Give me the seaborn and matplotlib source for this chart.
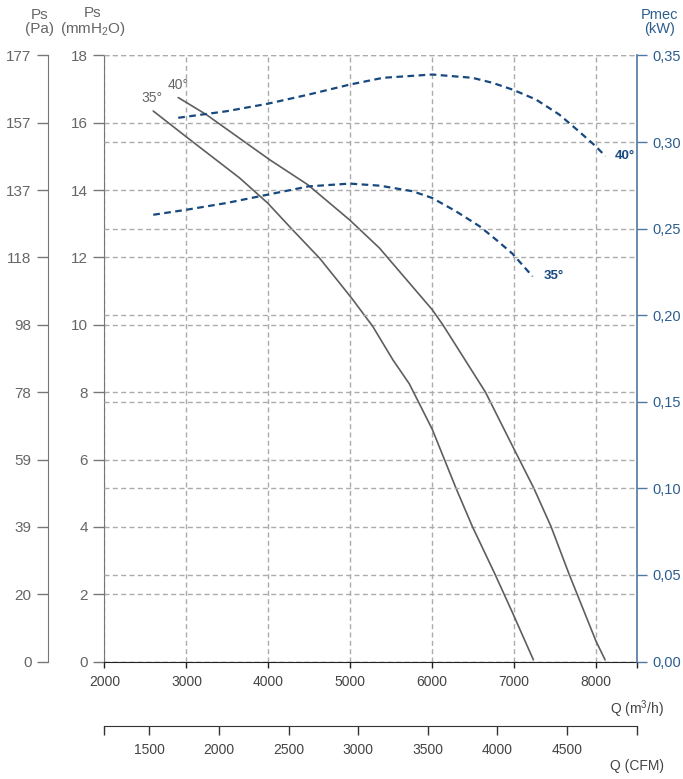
import matplotlib
matplotlib.use("Agg")
import matplotlib.pyplot as plt
from matplotlib import font_manager
import seaborn as sns
from matplotlib.ticker import FixedLocator

# pressure curves (Q in m3/h, Ps in mmH2O)
q35_ps = [2595, 3000, 3650, 3990, 4300, 4625, 4870, 5030, 5275, 5520, 5720, 6000, 6290, 6490, 6765, 6980, 7235]
ps35 = [16.35, 15.58, 14.36, 13.62, 12.81, 11.98, 11.24, 10.75, 9.95, 8.96, 8.25, 6.9, 5.15, 4.01, 2.6, 1.45, 0.05]
q40_ps = [2900, 3245, 4018, 4482, 4990, 5356, 6000, 6130, 6650, 6980, 7240, 7450, 7670, 8000, 8110]
ps40 = [16.75, 16.24, 14.9, 14.16, 13.12, 12.28, 10.45, 10.0, 8.0, 6.4, 5.15, 4.01, 2.6, 0.6, 0.05]

# power curves (Q in m3/h, Pmec in kW)
q35_pw = [2595, 3000, 3490, 3990, 4490, 4995, 5360, 5760, 6000, 6290, 6580, 6780, 6980, 7225]
pw35 = [0.258, 0.2609, 0.2648, 0.2696, 0.2744, 0.276, 0.2748, 0.2716, 0.2677, 0.26, 0.2513, 0.2436, 0.2355, 0.2224]
q40_pw = [2900, 3490, 3990, 4490, 4995, 5400, 6000, 6490, 6735, 6980, 7265, 7550, 7790, 7995, 8115]
pw40 = [0.314, 0.3178, 0.3221, 0.3274, 0.3332, 0.3371, 0.339, 0.3371, 0.3342, 0.3303, 0.3246, 0.3159, 0.3062, 0.2976, 0.2918]

mm_ticks = [0, 2, 4, 6, 8, 10, 12, 14, 16, 18]
pa_labels = ["0", "20", "39", "59", "78", "98", "118", "137", "157", "177"]
kw_ticks = [0.0, 0.05, 0.10, 0.15, 0.20, 0.25, 0.30, 0.35]
q_ticks = [2000, 3000, 4000, 5000, 6000, 7000, 8000]
cfm_ticks = [1500, 2000, 2500, 3000, 3500, 4000, 4500]
M3H_PER_CFM = 1.699

sns.set_style("white")

names = {f.name for f in font_manager.fontManager.ttflist}
base = "Liberation Sans" if "Liberation Sans" in names else "DejaVu Sans"
narrow = "Liberation Sans Narrow" if "Liberation Sans Narrow" in names else base
plt.rcParams["font.family"] = [base, "DejaVu Sans"]
plt.rcParams["mathtext.fontset"] = "custom"
plt.rcParams["mathtext.rm"] = base
plt.rcParams["mathtext.default"] = "regular"

GREY = "#666666"
DARK = "#444444"
BLUE = "#17497f"
AXBLUE = "#4f77a3"
LBLUE = "#2d5e8e"
GRID = "#ababab"
dash_grid = (0, (3.6, 2.4))
dash_pw = (0, (3.0, 2.0))

fig = plt.figure(figsize=(6.83, 7.79), dpi=100)
ax = fig.add_axes([0.153, 0.1508, 0.7797, 0.778])
ax.set_xlim(2000, 8500)
ax.set_ylim(0, 18)

sns.lineplot(x=q35_ps, y=ps35, ax=ax, color="#5e5e5e", lw=1.2, sort=False, estimator=None)
sns.lineplot(x=q40_ps, y=ps40, ax=ax, color="#5e5e5e", lw=1.2, sort=False, estimator=None)

ax.xaxis.set_major_locator(FixedLocator(q_ticks))
ax.xaxis.set_minor_locator(FixedLocator([8500]))
ax.yaxis.set_major_locator(FixedLocator(mm_ticks))
ax.grid(True, which="major", ls=dash_grid, color=GRID, lw=1)
ax.set_axisbelow(True)
for s in ["top", "right"]:
    ax.spines[s].set_visible(False)
ax.spines["left"].set_color("#777777")
ax.spines["bottom"].set_color("#222222")
ax.tick_params(axis="y", which="major", direction="out", length=8, width=1, color="#777777",
               labelcolor=GREY, labelsize=11, pad=4, left=True)
ax.tick_params(axis="x", which="both", direction="out", length=4.5, width=1, color="#222222",
               labelcolor=DARK, labelsize=10, pad=5, bottom=True)
ax.set_xlabel("")
ax.set_ylabel("")

# Pa axis (outer left)
axp = ax.twinx()
axp.set_ylim(0, 18)
axp.yaxis.set_major_locator(FixedLocator(mm_ticks))
axp.set_yticklabels(pa_labels)
axp.yaxis.tick_left()
axp.spines["left"].set_visible(True)
axp.spines["left"].set_position(("outward", 40.5))
axp.spines["left"].set_color("#777777")
for s in ["top", "right", "bottom"]:
    axp.spines[s].set_visible(False)
axp.tick_params(axis="y", direction="out", length=8, width=1, color="#777777",
                labelcolor=GREY, labelsize=11, pad=4)
axp.grid(False)

# Pmec axis (right)
axw = ax.twinx()
axw.set_ylim(0, 0.35)
sns.lineplot(x=q35_pw, y=pw35, ax=axw, color=BLUE, lw=1.6, sort=False, estimator=None,
             dashes=False, linestyle=dash_pw)
sns.lineplot(x=q40_pw, y=pw40, ax=axw, color=BLUE, lw=1.6, sort=False, estimator=None,
             dashes=False, linestyle=dash_pw)
axw.yaxis.set_major_locator(FixedLocator(kw_ticks))
axw.set_yticklabels([f"{v:.2f}".replace(".", ",") for v in kw_ticks])
axw.grid(True, axis="y", ls=dash_grid, color=GRID, lw=1)
axw.set_axisbelow(True)
for s in ["top", "left", "bottom"]:
    axw.spines[s].set_visible(False)
axw.spines["right"].set_color(AXBLUE)
axw.spines["right"].set_linewidth(1.2)
axw.tick_params(axis="y", direction="out", length=7, width=1, color=AXBLUE,
                labelcolor=LBLUE, labelsize=10.5, pad=4)
axw.set_ylabel("")

# CFM axis (lower)
axc = ax.twiny()
axc.set_xlim(2000 / M3H_PER_CFM, 8500 / M3H_PER_CFM)
axc.xaxis.set_ticks_position("bottom")
axc.xaxis.set_label_position("bottom")
axc.spines["bottom"].set_position(("outward", 46.5))
axc.spines["bottom"].set_visible(True)
axc.spines["bottom"].set_color("#333333")
for s in ["top", "left", "right"]:
    axc.spines[s].set_visible(False)
axc.xaxis.set_major_locator(FixedLocator(cfm_ticks))
axc.xaxis.set_minor_locator(FixedLocator([2000 / M3H_PER_CFM, 8500 / M3H_PER_CFM]))
axc.tick_params(axis="x", which="both", direction="out", length=6.5, width=1, color="#333333",
                labelcolor=DARK, labelsize=10, pad=6)
axc.grid(False)

# curve labels
ax.annotate("35°", xy=(q35_ps[0], ps35[0]), xytext=(-1, 4), textcoords="offset points",
            ha="center", va="bottom", color=GREY, fontsize=10, family=narrow)
ax.annotate("40°", xy=(q40_ps[0], ps40[0]), xytext=(0, 4), textcoords="offset points",
            ha="center", va="bottom", color=GREY, fontsize=10, family=narrow)
axw.annotate("35°", xy=(q35_pw[-1], pw35[-1]), xytext=(8, 0), textcoords="offset points",
             ha="left", va="center", color=BLUE, fontsize=9.5, fontweight="bold", family=narrow)
axw.annotate("40°", xy=(q40_pw[-1], pw40[-1]), xytext=(7, 0), textcoords="offset points",
             ha="left", va="center", color=BLUE, fontsize=9.5, fontweight="bold", family=narrow)

# axis titles
fig.text(40 / 683, 1 - 22 / 779, "Ps\n(Pa)", ha="center", va="center", color=GREY,
         fontsize=11, linespacing=1.0)
fig.text(93 / 683, 1 - 22 / 779, "Ps\n(mmH$_2$O)", ha="center", va="center", color=GREY,
         fontsize=11, linespacing=1.0)
fig.text(660 / 683, 1 - 22 / 779, "Pmec\n(kW)", ha="center", va="center", color=LBLUE,
         fontsize=10.5, linespacing=1.0)
fig.text(664 / 683, 1 - 709 / 779, "Q (m$^3$/h)", ha="right", va="center", color=DARK, fontsize=10)
fig.text(664 / 683, 1 - 766 / 779, "Q (CFM)", ha="right", va="center", color=DARK, fontsize=10)

fig.savefig("out.png", dpi=100)
